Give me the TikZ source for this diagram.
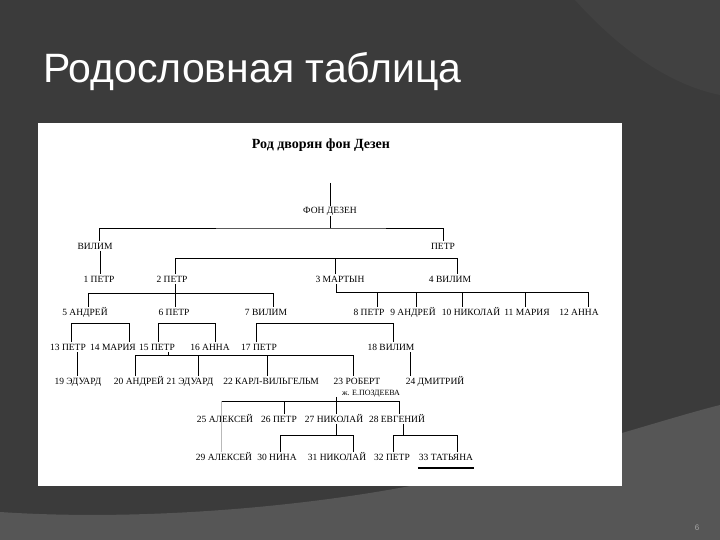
\documentclass[tikz,border=0pt]{standalone}
\usepackage{fontspec}
\setmainfont{Liberation Serif}
\newfontfamily\titlefont{Liberation Sans}
\definecolor{bgdark}{HTML}{3B3B3B}
\definecolor{bglight}{HTML}{565656}
\definecolor{bgmid}{HTML}{414141}
\begin{document}
\begin{tikzpicture}[x=1pt,y=-1pt,
  lbl/.style={font=\fontsize{9.5}{10}\selectfont, inner sep=1pt, text height=6.6pt, text depth=0.6pt},
  ln/.style={line width=0.8pt, black}]
\useasboundingbox (0,0) rectangle (720,540);
% background
\fill[bgdark] (0,0) rectangle (720,540);
\fill[bgmid] (575,0) .. controls (620,50) and (670,85) .. (720,95) -- (720,0) -- cycle;
\fill[bglight] (0,512) .. controls (150,522) and (320,505) .. (430,482) .. controls (560,455) and (660,420) .. (720,405) -- (720,540) -- (0,540) -- cycle;
% title
\node[anchor=base west, inner sep=0, text=white, font=\titlefont\fontsize{41}{41}\selectfont] (title) at (43,83) {Родословная таблица};
\node[text=gray!70, font=\titlefont\fontsize{8}{8}\selectfont, inner sep=0] (pg) at (697,528) {6};
% white panel
\fill[white] (38,123) rectangle (622,486);
% header
\node[inner sep=1pt, font=\bfseries\fontsize{14}{15}\selectfont] (hdr) at (321,145) {Род дворян фон Дезен};
% nodes
\node[lbl] (fd) at (330,211) {ФОН ДЕЗЕН};
\node[lbl] (vil) at (95,246) {ВИЛИМ};
\node[lbl] (pet) at (443,246) {ПЕТР};
\node[lbl] (p1) at (99,279) {1 ПЕТР};
\node[lbl] (p2) at (172,279) {2 ПЕТР};
\node[lbl] (m3) at (340,279) {3 МАРТЫН};
\node[lbl] (v4) at (450,279) {4 ВИЛИМ};
\node[lbl] (a5) at (85,312) {5 АНДРЕЙ};
\node[lbl] (p6) at (174,312) {6 ПЕТР};
\node[lbl] (v7) at (266,312) {7 ВИЛИМ};
\node[lbl] (p8) at (369,312) {8 ПЕТР};
\node[lbl] (a9) at (413,312) {9 АНДРЕЙ};
\node[lbl] (n10) at (471,312) {10 НИКОЛАЙ};
\node[lbl] (m11) at (527,312) {11 МАРИЯ};
\node[lbl] (a12) at (579,312) {12 АННА};
\node[lbl] (p13) at (68,347) {13 ПЕТР};
\node[lbl] (m14) at (113,347) {14 МАРИЯ};
\node[lbl] (p15) at (157,347) {15 ПЕТР};
\node[lbl] (a16) at (210,347) {16 АННА};
\node[lbl] (p17) at (259,347) {17 ПЕТР};
\node[lbl] (v18) at (391,347) {18 ВИЛИМ};
\node[lbl] (e19) at (78,381) {19 ЭДУАРД};
\node[lbl] (a20) at (139,381) {20 АНДРЕЙ};
\node[lbl] (e21) at (190,381) {21 ЭДУАРД};
\node[lbl] (k22) at (271,381) {22 КАРЛ-ВИЛЬГЕЛЬМ};
\node[lbl] (r23) at (357,381) {23 РОБЕРТ};
\node[lbl, font=\fontsize{8}{9}\selectfont] (w23) at (371,392) {ж. Е.ПОЗДЕЕВА};
\node[lbl] (d24) at (435,381) {24 ДМИТРИЙ};
\node[lbl] (a25) at (225,419) {25 АЛЕКСЕЙ};
\node[lbl] (p26) at (279,419) {26 ПЕТР};
\node[lbl] (n27) at (334,419) {27 НИКОЛАЙ};
\node[lbl] (e28) at (397,419) {28 ЕВГЕНИЙ};
\node[lbl] (a29) at (224,457) {29 АЛЕКСЕЙ};
\node[lbl] (n30) at (277,457) {30 НИНА};
\node[lbl] (n31) at (337,457) {31 НИКОЛАЙ};
\node[lbl] (p32) at (392,457) {32 ПЕТР};
\node[lbl] (t33) at (446,457) {33 ТАТЬЯНА};
% connectors
\coordinate (top) at (330,183);
\coordinate (j1) at (330,228);
\draw[ln] (top) -- (fd.north);
\draw[ln] (fd.south) -- (j1);
\draw[ln] (vil.north -| 99,0) |- (j1) -| (pet.north);
\draw[ln] (vil.south -| 100,0) -- (p1.north -| 100,0);
\draw[ln] (p2.north -| 175,0) |- (457,258) -- (v4.north -| 457,0);
\draw[ln] (m3.north -| 335,0) -- (335,258);
\draw[ln] (m3.south -| 336,0) |- (588,292) -- (a12.north -| 588,0);
\draw[ln] (377,292) -- (p8.north -| 377,0);
\draw[ln] (416,292) -- (a9.north -| 416,0);
\draw[ln] (462,292) -- (n10.north -| 462,0);
\draw[ln] (525,292) -- (m11.north -| 525,0);
\draw[ln] (p2.south -| 175,0) -- (175,293);
\draw[ln] (a5.north -| 88,0) |- (273,293) -- (v7.north -| 273,0);
\draw[ln] (175,293) -- (p6.north -| 175,0);
\draw[ln] (p13.north -| 71,0) |- (129,323) -- (m14.north -| 129,0);
\draw[ln] (p15.north -| 158,0) |- (215,323) -- (a16.north -| 215,0);
\draw[ln] (p17.north -| 256,0) |- (393,323) -- (v18.north -| 393,0);
\draw[ln] (p13.south -| 77,0) -- (e19.north -| 77,0);
\draw[ln] (p15.south -| 168,0) -- (168,355);
\draw[ln] (a20.north -| 135,0) |- (353,355) -- (r23.north -| 353,0);
\draw[ln] (198,355) -- (e21.north -| 198,0);
\draw[ln] (267,355) -- (k22.north -| 267,0);
\draw[ln] (v18.south -| 410,0) -- (d24.north -| 410,0);
\draw[ln] (w23.south -| 336,0) -- (336,401);
\draw[ln] (221,401) -- (399,401) -- (e28.north -| 399,0);
\draw[line width=0.8pt, gray!55] (221,401) -- (a29.north -| 221,0);
\draw[ln] (284,401) -- (p26.north -| 284,0);
\draw[ln] (336,401) -- (n27.north -| 336,0);
\draw[ln] (n27.south -| 336,0) -- (336,435);
\draw[ln] (n30.north -| 280,0) |- (353,435) -- (n31.north -| 353,0);
\draw[ln] (e28.south -| 403,0) -- (403,435);
\draw[ln] (p32.north -| 393,0) |- (457,435) -- (t33.north -| 457,0);
\draw[line width=1.3pt] (t33.south west |- 0,468) -- (t33.south east |- 0,468);
\end{tikzpicture}
\end{document}
